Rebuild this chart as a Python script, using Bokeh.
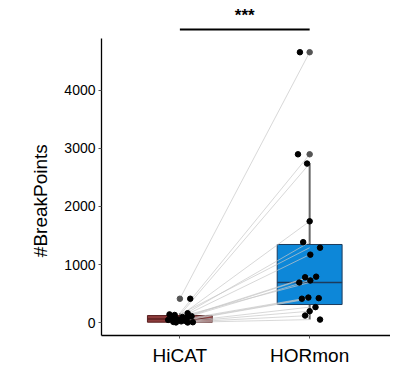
from bokeh.plotting import figure
from bokeh.models import Range1d, FixedTicker
from bokeh.core.properties import value
from bokeh.embed import file_html
from bokeh.resources import INLINE

# ---- data ----
categories = ["HiCAT", "HORmon"]
cat_pos = [1, 2]

hormon = [4660, 2900, 2740, 1745, 1385, 1290, 1170, 790, 780, 725, 690, 430, 420, 410, 265, 195, 120, 50]
hicat = [410, 160, 130, 110, 95, 140, 80, 70, 60, 55, 100, 45, 30, 20, 10, 5, 2, 0]

hormon_jitter = [-0.075, -0.09, -0.02, 0.0, -0.05, 0.08, 0.005, 0.05, -0.035, 0.005, -0.08, -0.01, 0.07, -0.06, 0.045, 0.0, -0.035, 0.08]
hicat_jitter = [0.08, 0.06, -0.04, 0.09, 0.02, -0.08, 0.05, -0.06, 0.03, -0.02, 0.07, -0.09, 0.04, 0.01, -0.05, 0.1, -0.03, 0.06]

# box statistics: q1, median, q3, lower whisker, upper whisker
box_q1 = [5, 310]
box_med = [60, 690]
box_q3 = [120, 1345]
box_lo = [0, 50]
box_hi = [160, 2740]
outliers_x = [1, 2, 2]
outliers_y = [410, 4660, 2900]
box_fill = ["#8c3b3b", "#0d87d8"]
box_line = ["#5a2020", "#1d3b5c"]

yticks = [0, 1000, 2000, 3000, 4000]
signif = "***"
y_title = "#BreakPoints"

p = figure(width=390, height=368, output_backend="svg", toolbar_location=None,
           x_range=Range1d(0.396, 2.623), y_range=Range1d(-224, 5517),
           min_border_left=101, min_border_right=0, min_border_top=2, min_border_bottom=33)
p.outline_line_color = None
p.grid.visible = False
p.background_fill_color = "white"
p.border_fill_color = "white"

# boxes
p.segment(x0=cat_pos, x1=cat_pos, y0=box_q3, y1=box_hi, line_color="#666666", line_width=2)
p.segment(x0=cat_pos, x1=cat_pos, y0=box_lo, y1=box_q1, line_color="#666666", line_width=2)
p.vbar(x=cat_pos, width=0.5, bottom=box_q1, top=box_q3, fill_color=box_fill,
       line_color=box_line, line_width=1)
p.segment(x0=[c - 0.25 for c in cat_pos], x1=[c + 0.25 for c in cat_pos],
          y0=box_med, y1=box_med, line_color=box_line, line_width=1.5)

# paired lines
xs = [[1, 2] for _ in hicat]
ys = [[a, b] for a, b in zip(hicat, hormon)]
p.multi_line(xs=xs, ys=ys, line_color="#c8c8c8", line_alpha=0.7, line_width=1)

# outliers
p.scatter(x=outliers_x, y=outliers_y, size=5.5, fill_color="#555555", line_color="#555555")

# jittered points
p.scatter(x=[1 + j for j in hicat_jitter], y=hicat, size=5.5, fill_color="black", line_color="black")
p.scatter(x=[2 + j for j in hormon_jitter], y=hormon, size=5.5, fill_color="black", line_color="black")

# significance bar
p.segment(x0=[1], x1=[2], y0=[5052], y1=[5052], line_color="black", line_width=2)
p.text(x=[1.5], y=[5300], text=[signif], text_align="center", text_baseline="middle",
       text_font=value("Liberation Sans"), text_font_size="17px", text_font_style="bold",
       text_color="black")

# axes
p.xaxis.ticker = FixedTicker(ticks=cat_pos)
p.xaxis.major_label_overrides = {c: n for c, n in zip(cat_pos, categories)}
p.xaxis.major_label_text_font = "Liberation Sans"
p.xaxis.major_label_text_font_size = "19px"
p.xaxis.major_label_text_color = "black"
p.xaxis.major_label_standoff = 6
p.xaxis.minor_tick_line_color = None
p.xaxis.major_tick_in = 0
p.xaxis.major_tick_out = 3
p.xaxis.major_tick_line_color = "#555555"
p.xaxis.axis_line_color = "black"
p.xaxis.axis_line_width = 1.3

p.yaxis.ticker = FixedTicker(ticks=yticks)
p.yaxis.bounds = (-224, 4900)
p.yaxis.axis_label = y_title + "\u00a0" * 12
p.yaxis.axis_label_text_font = "Liberation Sans"
p.yaxis.axis_label_text_font_size = "19px"
p.yaxis.axis_label_text_font_style = "normal"
p.yaxis.axis_label_text_color = "black"
p.yaxis.axis_label_standoff = 10
p.yaxis.major_label_text_font = "Liberation Sans"
p.yaxis.major_label_text_font_size = "14px"
p.yaxis.major_label_text_color = "black"
p.yaxis.major_label_standoff = 3
p.yaxis.minor_tick_line_color = None
p.yaxis.major_tick_in = 0
p.yaxis.major_tick_out = 3
p.yaxis.major_tick_line_color = "#555555"
p.yaxis.axis_line_color = "black"
p.yaxis.axis_line_width = 1.3

open("out.html", "w").write(file_html(p, INLINE))
